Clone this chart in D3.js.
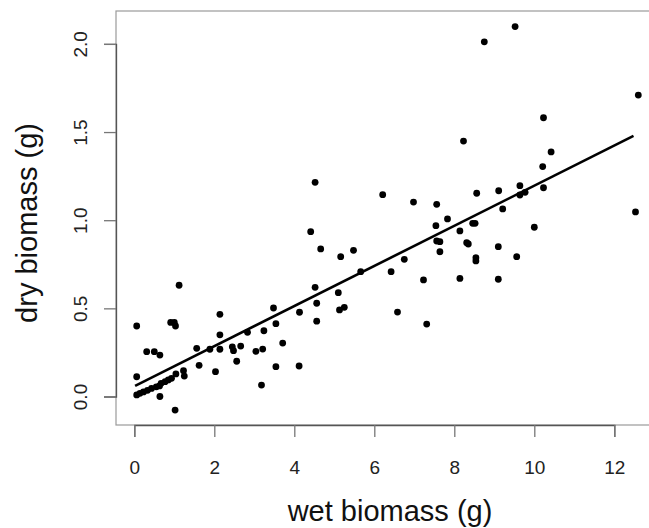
<!DOCTYPE html>
<html>
<head>
<meta charset="utf-8">
<script src="https://cdn.jsdelivr.net/npm/d3@7"></script>
<style>
  html, body { margin: 0; padding: 0; background: #fff; }
  svg { display: block; }
  text { font-family: "Liberation Sans", Arial, Helvetica, sans-serif; }
</style>
</head>
<body>
<svg id="chart" width="649" height="528"></svg>
<script>
// ---- data ----
const wetBiomass = [
  0.06, 0.91, 1.00, 1.03, 1.12, 2.14, 0.31, 0.50, 0.64, 2.14,
  1.56, 1.89, 2.14, 2.45, 2.48, 2.66, 2.56, 1.62, 2.03, 0.06,
  0.06, 0.14, 0.23, 0.33, 0.43, 0.63, 0.67, 0.77, 0.85, 0.93,
  1.04, 1.23, 1.25, 0.64, 1.02, 0.55,
  2.83, 3.04, 3.21, 3.24, 3.18, 3.48, 3.54, 3.54, 3.71, 4.12,
  4.13, 4.41, 4.52, 4.52, 4.56, 4.56, 4.66, 5.10, 5.13, 5.25,
  5.16, 5.48, 5.66, 6.21, 6.42, 6.58, 6.75, 6.98, 7.23, 7.31,
  7.56, 7.54, 7.56, 7.64, 7.64, 7.83, 8.14, 8.14, 8.23, 8.31,
  8.35, 8.46, 8.52, 8.54, 8.54, 8.56, 8.75, 9.10, 9.10, 9.11,
  9.21, 9.52, 9.56, 9.64, 9.64, 9.77, 10.00, 10.21, 10.23, 10.23,
  10.42, 12.53, 12.60
];
const dryBiomass = [
  0.400, 0.420, 0.420, 0.400, 0.631, 0.466, 0.254, 0.254, 0.235, 0.350,
  0.273, 0.268, 0.268, 0.282, 0.260, 0.286, 0.200, 0.177, 0.141, 0.112,
  0.009, 0.018, 0.026, 0.035, 0.046, 0.060, 0.075, 0.084, 0.094, 0.103,
  0.128, 0.146, 0.116, 0.000, -0.077, 0.055,
  0.364, 0.256, 0.269, 0.373, 0.065, 0.502, 0.413, 0.169, 0.303, 0.173,
  0.478, 0.935, 1.215, 0.619, 0.529, 0.427, 0.837, 0.589, 0.491, 0.506,
  0.793, 0.829, 0.708, 1.145, 0.708, 0.479, 0.778, 1.103, 0.661, 0.411,
  1.090, 0.969, 0.882, 0.878, 0.821, 1.007, 0.939, 0.670, 1.449, 0.872,
  0.865, 0.982, 0.982, 0.787, 0.769, 1.153, 2.012, 0.850, 0.665, 1.167,
  1.064, 2.098, 0.793, 1.196, 1.143, 1.158, 0.960, 1.304, 1.581, 1.184,
  1.387, 1.047, 1.710
];
// fitted regression line (endpoints)
const fitX = [0.02, 12.48];
const fitY = [0.060, 1.478];
// axis ticks
const xTicks = [0, 2, 4, 6, 8, 10, 12];
const yTicks = [0.0, 0.5, 1.0, 1.5, 2.0];
const yTickLabels = ["0.0", "0.5", "1.0", "1.5", "2.0"];
const xTitle = "wet biomass (g)";
const yTitle = "dry biomass (g)";

// ---- layout ----
const svg = d3.select("#chart");
const box = { left: 116, top: 11, bottom: 425, right: 658 };
const x = d3.scaleLinear().domain([0, 12]).range([134.3, 614.3]);
const y = d3.scaleLinear().domain([0, 2]).range([396.5, 43.9]);

// plot box
svg.append("rect")
  .attr("x", box.left).attr("y", box.top)
  .attr("width", box.right - box.left).attr("height", box.bottom - box.top)
  .attr("fill", "none").attr("stroke", "#9a9a9a").attr("stroke-width", 1.2);

// x axis
const xAxis = d3.axisBottom(x).tickValues(xTicks).tickSize(12).tickPadding(24)
  .tickFormat(d3.format("d"));
const gx = svg.append("g").attr("transform", `translate(0,${box.bottom})`).call(xAxis);
gx.select(".domain").attr("stroke", "#555").attr("stroke-width", 1.3);
gx.selectAll(".tick line").attr("stroke", "#777").attr("stroke-width", 1.3);
gx.selectAll(".tick text").attr("font-size", 19).attr("fill", "#222")
  .attr("font-family", "Liberation Sans, Arial, sans-serif");

// y axis
const yAxis = d3.axisLeft(y).tickValues(yTicks).tickSize(12)
  .tickFormat((d, i) => yTickLabels[i]);
const gy = svg.append("g").attr("transform", `translate(${box.left},0)`).call(yAxis);
gy.select(".domain").attr("stroke", "#555").attr("stroke-width", 1.3);
gy.selectAll(".tick line").attr("stroke", "#777").attr("stroke-width", 1.3);
gy.selectAll(".tick text").remove();
gy.selectAll(".tick").append("text")
  .attr("transform", "translate(-29,0) rotate(-90)")
  .attr("text-anchor", "middle")
  .attr("font-size", 19).attr("fill", "#222")
  .text((d, i) => yTickLabels[i]);

// titles
svg.append("text")
  .attr("x", 390).attr("y", 521)
  .attr("text-anchor", "middle").attr("font-size", 29).attr("fill", "#111")
  .text(xTitle);
svg.append("text")
  .attr("transform", "translate(37,223) rotate(-90)")
  .attr("text-anchor", "middle").attr("font-size", 29).attr("fill", "#111")
  .text(yTitle);

// points
const pts = wetBiomass.map((w, i) => ({ w, d: dryBiomass[i] }));
svg.append("g").selectAll("circle").data(pts).join("circle")
  .attr("cx", p => x(p.w)).attr("cy", p => y(p.d))
  .attr("r", 3.4).attr("fill", "#000");

// regression line
const line = d3.line().x(d => x(d[0])).y(d => y(d[1]));
svg.append("path")
  .datum(fitX.map((v, i) => [v, fitY[i]]))
  .attr("d", line).attr("fill", "none")
  .attr("stroke", "#000").attr("stroke-width", 2.6);
</script>
</body>
</html>
